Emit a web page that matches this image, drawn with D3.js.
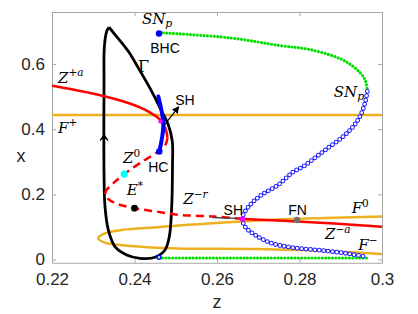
<!DOCTYPE html>
<html>
<head>
<meta charset="utf-8">
<script src="https://cdn.jsdelivr.net/npm/d3@7"></script>
<style>
  body { margin: 0; background: #fff; }
  svg text { font-family: "Liberation Sans", Arial, sans-serif; }
  .m { font-family: "DejaVu Serif", "Liberation Serif", serif; }
</style>
</head>
<body>
<div id="chart"></div>
<script>
// axis ticks
var zTicks = [0.22, 0.24, 0.26, 0.28, 0.30],
    zTickLabels = ["0.22", "0.24", "0.26", "0.28", "0.3"];
var xTicks = [0, 0.2, 0.4, 0.6],
    xTickLabels = ["0", "0.2", "0.4", "0.6"];

// F curves (yellow)
var fPlusX = 0.444;
var fFoldZ = [0.3000, 0.2796, 0.2663, 0.2600, 0.2522, 0.2455, 0.2372, 0.2328, 0.2312, 0.2328, 0.2372, 0.2455, 0.2522, 0.2600, 0.2704, 0.2813, 0.3000];
var fFoldX = [0.1323, 0.1250, 0.1170, 0.1120, 0.1060, 0.0990, 0.0910, 0.0800, 0.0652, 0.0520, 0.0440, 0.0360, 0.0330, 0.0330, 0.0320, 0.0290, 0.0170];

// Z curve (red): 0..6 Z+a, 6..20 Z0 / Z-r, 20.. Z-a
var zcZ = [0.2200, 0.2304, 0.2385, 0.2433, 0.2466, 0.2476, 0.2480, 0.2474, 0.2458, 0.2413, 0.2375, 0.2349, 0.2331, 0.2330, 0.2336, 0.2353, 0.2400, 0.2454, 0.2510, 0.2595, 0.2664, 0.2794, 0.3000];
var zcX = [0.5338, 0.5083, 0.4806, 0.4548, 0.4240, 0.3985, 0.3738, 0.3492, 0.3317, 0.2960, 0.2622, 0.2345, 0.2108, 0.1985, 0.1862, 0.1729, 0.1575, 0.1471, 0.1369, 0.1317, 0.1246, 0.1169, 0.1009];
var zFold = 6, zSH = 20;

// periodic orbit Gamma (black)
var gamZ = [0.23382, 0.23527, 0.23850, 0.24092, 0.24417, 0.24659, 0.24819, 0.24916, 0.24921, 0.24902, 0.24844, 0.24739, 0.24497, 0.24133, 0.23811, 0.23527, 0.23365, 0.23285, 0.23261, 0.23261, 0.23268, 0.23326, 0.23382];
var gamX = [0.7132, 0.6908, 0.6394, 0.5883, 0.5163, 0.4548, 0.4138, 0.3625, 0.2908, 0.1625, 0.0702, 0.0292, 0.0068, 0.0037, 0.0138, 0.0394, 0.0908, 0.1625, 0.2652, 0.5471, 0.6508, 0.7009, 0.7132];

// homoclinic segment (thick blue)
var hcZ = [0.24577, 0.24698, 0.24601];
var hcX = [0.5009, 0.4138, 0.3317];

// branch of periodic orbits
var greenUpZ = [0.24618, 0.26315, 0.27527, 0.28255, 0.28982, 0.29273, 0.29467, 0.29588, 0.29644];
var greenUpX = [0.6966, 0.6806, 0.6569, 0.6446, 0.6169, 0.5954, 0.5738, 0.5523, 0.5215];
var unstZ = [0.29644, 0.29588, 0.29467, 0.29304, 0.29062, 0.28739, 0.28417, 0.28092, 0.27850, 0.27486, 0.27084, 0.26841, 0.26679, 0.26613, 0.26679, 0.26921, 0.27326, 0.27811, 0.28659, 0.29224, 0.29629];
var unstX = [0.5163, 0.4806, 0.4394, 0.4086, 0.3778, 0.3471, 0.3163, 0.2855, 0.2692, 0.2292, 0.1985, 0.1729, 0.1471, 0.1268, 0.1009, 0.0754, 0.0498, 0.0369, 0.0262, 0.0169, 0.0077];
var greenLowZ = [0.24594, 0.29650];
var greenLowX = [0.0046, 0.0046];

var margin = {top: 12, right: 36, bottom: 51.25, left: 52},
    width = 418 - margin.left - margin.right,
    height = 314 - margin.top - margin.bottom;

var svg = d3.select("#chart")
  .append("svg")
    .attr("width", 418)
    .attr("height", 314)
  .append("g")
    .attr("transform", "translate(" + margin.left + "," + margin.top + ")");

var x = d3.scaleLinear().domain([0.22, 0.30]).range([0, width]);
var y = d3.scaleLinear().domain([-0.01, 0.76]).range([height, 0]);

svg.append("defs").append("clipPath").attr("id", "clip")
  .append("rect").attr("width", width).attr("height", height);

// axes, box with inward ticks
function styleAxis(g) {
  g.select(".domain").attr("stroke", "#a6a6a6");
  g.selectAll(".tick line").attr("stroke", "#a6a6a6");
  g.selectAll(".tick text").attr("fill", "#262626").style("font-size", "17px");
}
svg.append("g").attr("transform", "translate(0," + height + ")")
  .call(d3.axisBottom(x).tickValues(zTicks).tickFormat(function(d, i) { return zTickLabels[i]; }).tickSizeInner(-4).tickSizeOuter(0).tickPadding(10))
  .call(styleAxis);
svg.append("g")
  .call(d3.axisTop(x).tickValues(zTicks).tickFormat("").tickSizeInner(-4).tickSizeOuter(0))
  .call(styleAxis);
svg.append("g")
  .call(d3.axisLeft(y).tickValues(xTicks).tickFormat(function(d, i) { return xTickLabels[i]; }).tickSizeInner(-4).tickSizeOuter(0).tickPadding(7))
  .call(styleAxis);
svg.append("g").attr("transform", "translate(" + width + ",0)")
  .call(d3.axisRight(y).tickValues(xTicks).tickFormat("").tickSizeInner(-4).tickSizeOuter(0))
  .call(styleAxis);

svg.append("text").attr("x", -31).attr("y", y(0.30)).attr("text-anchor", "middle")
  .attr("fill", "#262626").style("font-size", "18px").text("x");
svg.append("text").attr("x", width / 2).attr("y", height + 45).attr("text-anchor", "middle")
  .attr("fill", "#262626").style("font-size", "18px").text("z");

var plot = svg.append("g").attr("clip-path", "url(#clip)");

function pts(zs, xs, a, b) {
  var out = zs.map(function(d, i) { return [d, xs[i]]; });
  return out.slice(a === undefined ? 0 : a, b === undefined ? out.length : b + 1);
}
var line = d3.line().x(function(d) { return x(d[0]); }).y(function(d) { return y(d[1]); })
  .curve(d3.curveCatmullRom);

// yellow F
plot.append("path").datum([[0.22, fPlusX], [0.30, fPlusX]])
  .attr("fill", "none").attr("stroke", "#edb120").attr("stroke-width", 2.5).attr("d", line);
plot.append("path").datum(pts(fFoldZ, fFoldX))
  .attr("fill", "none").attr("stroke", "#edb120").attr("stroke-width", 2.5).attr("d", line);

// black Gamma
plot.append("path").datum(pts(gamZ, gamX))
  .attr("fill", "none").attr("stroke", "black").attr("stroke-width", 2.8)
  .attr("stroke-linejoin", "round").attr("d", line);
// direction arrow on Gamma
var ax = x(0.23262), ay = y(0.378);
plot.append("path")
  .attr("d", "M" + (ax - 4) + "," + (ay + 4) + "L" + ax + "," + (ay - 2) + "L" + (ax + 4) + "," + (ay + 4) + "L" + ax + "," + (ay + 1) + "Z")
  .attr("fill", "black").attr("stroke", "black").attr("stroke-width", 1);

// red Z
plot.append("path").datum(pts(zcZ, zcX, 0, zFold))
  .attr("fill", "none").attr("stroke", "#ff0000").attr("stroke-width", 2.5).attr("d", line);
plot.append("path").datum(pts(zcZ, zcX, zFold, zSH))
  .attr("fill", "none").attr("stroke", "#ff0000").attr("stroke-width", 2.5)
  .attr("stroke-dasharray", "8,5").attr("d", line);
plot.append("path").datum(pts(zcZ, zcX, zSH))
  .attr("fill", "none").attr("stroke", "#ff0000").attr("stroke-width", 2.5).attr("d", line);

// thick blue homoclinic segment
plot.append("path").datum(pts(hcZ, hcX))
  .attr("fill", "none").attr("stroke", "#0000ff").attr("stroke-width", 4)
  .attr("stroke-linecap", "round").attr("d", line);

// green stable periodic orbits (dot markers)
[pts(greenUpZ, greenUpX), pts(greenLowZ, greenLowX)].forEach(function(p) {
  plot.append("path").datum(p)
    .attr("fill", "none").attr("stroke", "#00e000").attr("stroke-width", 3.2)
    .attr("stroke-linecap", "round").attr("stroke-dasharray", "0,3.4").attr("d", line);
});
// blue unstable periodic orbits (open circles)
plot.append("path").datum(pts(unstZ, unstX))
  .attr("fill", "none").attr("stroke", "#1a1aff").attr("stroke-width", 4.8)
  .attr("stroke-linecap", "round").attr("stroke-dasharray", "0,4.4").attr("d", line);
plot.append("path").datum(pts(unstZ, unstX))
  .attr("fill", "none").attr("stroke", "#ffffff").attr("stroke-width", 2.8)
  .attr("stroke-linecap", "round").attr("stroke-dasharray", "0,4.4").attr("d", line);

// special points
var dots = [
  {z: 0.24594, x: 0.6941, r: 3.2, c: "#0000ff"},
  {z: 0.24601, x: 0.3317, r: 3.2, c: "#0000ff"},
  {z: 0.24594, x: 0.0070, r: 2.6, c: "#0000ff"},
  {z: 0.24630, x: 0.4240, r: 2.2, c: "#ff00ff"},
  {z: 0.26620, x: 0.1246, r: 2.6, c: "#ff00ff"},
  {z: 0.23750, x: 0.2622, r: 3.6, c: "#00ffff"},
  {z: 0.24000, x: 0.1575, r: 3.4, c: "#000000"},
  {z: 0.27940, x: 0.1215, r: 3.2, c: "#707070"}
];
plot.selectAll("circle.pt").data(dots).enter().append("circle")
  .attr("class", "pt")
  .attr("cx", function(d) { return x(d.z); })
  .attr("cy", function(d) { return y(d.x); })
  .attr("r", function(d) { return d.r; })
  .attr("fill", function(d) { return d.c; });
plot.append("circle").attr("cx", x(0.24594)).attr("cy", y(0.0070)).attr("r", 1.2).attr("fill", "#c8f0ff");

// SH arrow
svg.append("defs").append("marker").attr("id", "ah")
  .attr("viewBox", "0 0 10 10").attr("refX", 8).attr("refY", 5)
  .attr("markerWidth", 6).attr("markerHeight", 6).attr("orient", "auto")
  .append("path").attr("d", "M0,0L10,5L0,10Z").attr("fill", "black");
svg.append("line")
  .attr("x1", x(0.24698)).attr("y1", y(0.4086)).attr("x2", x(0.25064)).attr("y2", y(0.4677))
  .attr("stroke", "black").attr("stroke-width", 1.2).attr("marker-end", "url(#ah)");
svg.append("line")
  .attr("x1", x(0.2589)).attr("y1", y(0.1290)).attr("x2", x(0.2650)).attr("y2", y(0.1260))
  .attr("stroke", "#444").attr("stroke-width", 1.3);

// labels
function mlab(z, xv, base, sup, sub, size, opts) {
  opts = opts || {};
  var t = svg.append("text").attr("class", "m").attr("x", x(z)).attr("y", y(xv))
    .attr("fill", "black").style("font-size", size + "px");
  t.append("tspan").style("font-style", opts.upright ? "normal" : "italic").text(base);
  if (sup) t.append("tspan").attr("dy", -size * 0.42).style("font-size", (size * 0.7) + "px")
    .style("font-style", opts.supUpright ? "normal" : "italic").text(sup);
  if (sub) t.append("tspan").attr("dy", size * 0.22).style("font-size", (size * 0.72) + "px")
    .style("font-style", "italic").text(sub);
  return t;
}
function slab(z, xv, s) {
  svg.append("text").attr("x", x(z)).attr("y", y(xv)).attr("text-anchor", "middle")
    .attr("fill", "black").style("font-size", "14px").text(s);
}
mlab(0.24180, 0.7230, "SN", null, "p", 15);
mlab(0.28830, 0.4990, "SN", null, "p", 15);
mlab(0.24085, 0.5770, "\u0393", null, null, 16, {upright: true});
mlab(0.22145, 0.5431, "Z", "+a", null, 15);
mlab(0.22145, 0.3892, "F", "+", null, 15, {supUpright: true});
mlab(0.23721, 0.2969, "Z", "0", null, 15, {supUpright: true});
mlab(0.23811, 0.1985, "E", "*", null, 15, {supUpright: true});
mlab(0.25183, 0.1708, "Z", "\u2212r", null, 15);
mlab(0.29265, 0.1431, "F", "0", null, 15, {supUpright: true});
mlab(0.28618, 0.0631, "Z", "\u2212a", null, 15);
mlab(0.29426, 0.0292, "F", "\u2212", null, 15, {supUpright: true});
slab(0.24739, 0.6354, "BHC");
slab(0.24577, 0.2702, "HC");
slab(0.25224, 0.4754, "SH");
slab(0.26395, 0.1369, "SH");
slab(0.27952, 0.1369, "FN");
</script>
</body>
</html>
